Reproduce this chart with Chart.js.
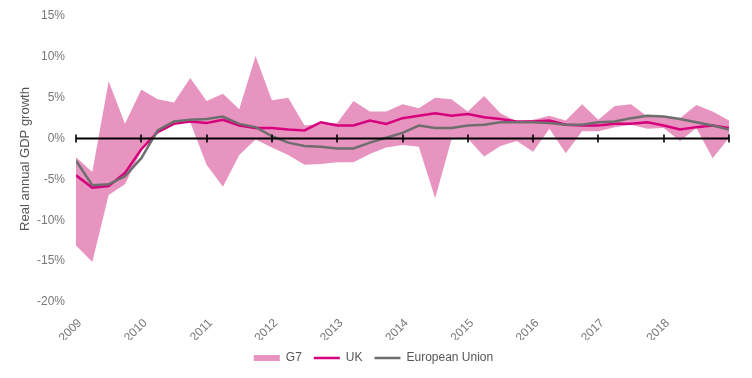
<!DOCTYPE html>
<html>
<head>
<meta charset="utf-8">
<script src="https://cdn.jsdelivr.net/npm/chart.js@4.4.1/dist/chart.umd.min.js"></script>
<style>
  html, body { margin: 0; padding: 0; background: #fff; }
  #wrap { width: 752px; height: 378px; position: relative; }
</style>
</head>
<body>
<div id="wrap"><canvas id="c" width="752" height="378"></canvas></div>
<script>
// Quarterly points, 2009 Q1 to 2019 Q1
const quarters = [
  2009.00, 2009.25, 2009.50, 2009.75,
  2010.00, 2010.25, 2010.50, 2010.75,
  2011.00, 2011.25, 2011.50, 2011.75,
  2012.00, 2012.25, 2012.50, 2012.75,
  2013.00, 2013.25, 2013.50, 2013.75,
  2014.00, 2014.25, 2014.50, 2014.75,
  2015.00, 2015.25, 2015.50, 2015.75,
  2016.00, 2016.25, 2016.50, 2016.75,
  2017.00, 2017.25, 2017.50, 2017.75,
  2018.00, 2018.25, 2018.50, 2018.75,
  2019.00
];
const yearTicks = [2009, 2010, 2011, 2012, 2013, 2014, 2015, 2016, 2017, 2018];

const g7Max = [
  -2.3, -4.1, 7.0, 1.8,
  6.0, 4.8, 4.4, 7.4,
  4.6, 5.5, 3.6, 10.1,
  4.7, 5.0, 1.6, 1.8,
  1.9, 4.6, 3.3, 3.3,
  4.2, 3.7, 5.0, 4.8,
  3.3, 5.2, 3.1, 2.1,
  2.3, 2.8, 2.2, 4.2,
  2.3, 4.0, 4.2, 2.7,
  2.7, 2.5, 4.1, 3.3,
  2.2
];
const g7Min = [
  -13.1, -15.1, -6.9, -5.6,
  -1.5, 0.7, 1.8, 2.0,
  -3.2, -5.9, -2.0, -0.1,
  -1.1, -2.0, -3.2, -3.1,
  -2.9, -2.9, -1.9, -1.1,
  -0.8, -1.0, -7.3, -0.1,
  0.0, -2.2, -0.9, -0.3,
  -1.6, 1.2, -1.8, 0.9,
  0.9, 1.4, 1.7, 1.2,
  1.3, -0.3, 1.3, -2.4,
  0.1
];
const ukGrowth = [
  -4.5, -6.0, -5.8, -4.2,
  -1.3, 0.8, 1.8, 2.1,
  1.9, 2.3, 1.6, 1.3,
  1.3, 1.1, 1.0, 2.0,
  1.6, 1.6, 2.2, 1.8,
  2.5, 2.8, 3.1, 2.8,
  3.0, 2.6, 2.4, 2.1,
  2.1, 2.2, 1.7, 1.6,
  1.6, 1.8, 1.8, 2.0,
  1.6, 1.1, 1.4, 1.6,
  1.3
];
const euGrowth = [
  -2.7, -5.7, -5.6, -4.6,
  -2.4, 1.0, 2.1, 2.3,
  2.4, 2.7, 1.8, 1.4,
  0.3, -0.5, -0.9, -1.0,
  -1.2, -1.2, -0.5, 0.1,
  0.7, 1.6, 1.3, 1.3,
  1.6, 1.7, 2.0, 2.0,
  2.0, 1.9, 1.7, 1.7,
  2.0, 2.1, 2.5, 2.8,
  2.7, 2.4, 2.0, 1.6,
  1.1
];
const yTickValues = [15, 10, 5, 0, -5, -10, -15, -20];

const PINK = 'rgb(231,149,192)';
const MAGENTA = 'rgb(214,0,124)';
const GREY = 'rgb(110,110,110)';
const TEXT = '#777777';
const FONT = "'Liberation Sans', 'DejaVu Sans', sans-serif";

const pts = (arr) => arr.map((v, i) => ({ x: quarters[i], y: v }));

const zeroLine = {
  id: 'zeroLine',
  afterDatasetsDraw(chart) {
    const xs = chart.scales.x, ys = chart.scales.y;
    const y0 = ys.getPixelForValue(0);
    const ctx = chart.ctx;
    ctx.save();
    ctx.strokeStyle = '#000';
    ctx.lineWidth = 2;
    ctx.beginPath();
    ctx.moveTo(xs.getPixelForValue(xs.min), y0);
    ctx.lineTo(xs.getPixelForValue(xs.max), y0);
    ctx.stroke();
    ctx.lineWidth = 1.6;
    const ticks = yearTicks.concat([xs.max]);
    ticks.forEach(t => {
      const px = Math.round(xs.getPixelForValue(t));
      ctx.beginPath();
      ctx.moveTo(px, y0 - 4);
      ctx.lineTo(px, y0 + 4);
      ctx.stroke();
    });
    ctx.restore();
  }
};

new Chart(document.getElementById('c'), {
  type: 'line',
  data: {
    datasets: [
      { label: 'G7', data: pts(g7Max), fill: '+1', backgroundColor: PINK, borderWidth: 0, borderColor: 'rgba(0,0,0,0)', pointRadius: 0, tension: 0, order: 3 },
      { label: 'G7 min', data: pts(g7Min), fill: false, borderWidth: 0, borderColor: 'rgba(0,0,0,0)', pointRadius: 0, tension: 0, order: 4 },
      { label: 'UK', data: pts(ukGrowth), fill: false, borderColor: MAGENTA, borderWidth: 2.5, pointRadius: 0, tension: 0, order: 1 },
      { label: 'European Union', data: pts(euGrowth), fill: false, borderColor: GREY, borderWidth: 2.5, pointRadius: 0, tension: 0, order: 0 }
    ]
  },
  options: {
    responsive: false,
    animation: false,
    devicePixelRatio: 1,
    layout: { padding: { left: 18, right: 23, top: 16, bottom: 4 } },
    scales: {
      x: {
        type: 'linear',
        min: 2009, max: 2019,
        grid: { display: false },
        border: { display: false },
        afterBuildTicks(scale) { scale.ticks = yearTicks.map(v => ({ value: v })); },
        afterFit(scale) { scale.height = 38; },
        ticks: {
          color: TEXT,
          font: { family: FONT, size: 12 },
          minRotation: 45, maxRotation: 45,
          padding: 6,
          labelOffset: 4,
          callback: (v) => String(v)
        }
      },
      y: {
        min: -20, max: 15,
        grid: { display: false },
        border: { display: false },
        afterBuildTicks(scale) { scale.ticks = yTickValues.map(v => ({ value: v })); },
        afterFit(scale) { scale.width = 58; },
        ticks: {
          color: TEXT,
          font: { family: FONT, size: 12 },
          padding: 3,
          callback: (v) => v + '%'
        },
        title: {
          display: true,
          text: 'Real annual GDP growth',
          color: '#555',
          font: { family: FONT, size: 13 },
          padding: { top: 0, bottom: 6 }
        }
      }
    },
    plugins: {
      tooltip: { enabled: false },
      legend: {
        position: 'bottom',
        labels: {
          color: '#555',
          font: { family: FONT, size: 12 },
          usePointStyle: true,
          pointStyleWidth: 26,
          boxHeight: 6,
          padding: 12,
          generateLabels() {
            return [
              { text: 'G7', fillStyle: PINK, strokeStyle: PINK, lineWidth: 0, pointStyle: 'rect', hidden: false, datasetIndex: 0, fontColor: '#555' },
              { text: 'UK', fillStyle: MAGENTA, strokeStyle: MAGENTA, lineWidth: 2.5, pointStyle: 'line', hidden: false, datasetIndex: 2, fontColor: '#555' },
              { text: 'European Union', fillStyle: GREY, strokeStyle: GREY, lineWidth: 2.5, pointStyle: 'line', hidden: false, datasetIndex: 3, fontColor: '#555' }
            ];
          }
        }
      }
    }
  },
  plugins: [zeroLine]
});
</script>
</body>
</html>
